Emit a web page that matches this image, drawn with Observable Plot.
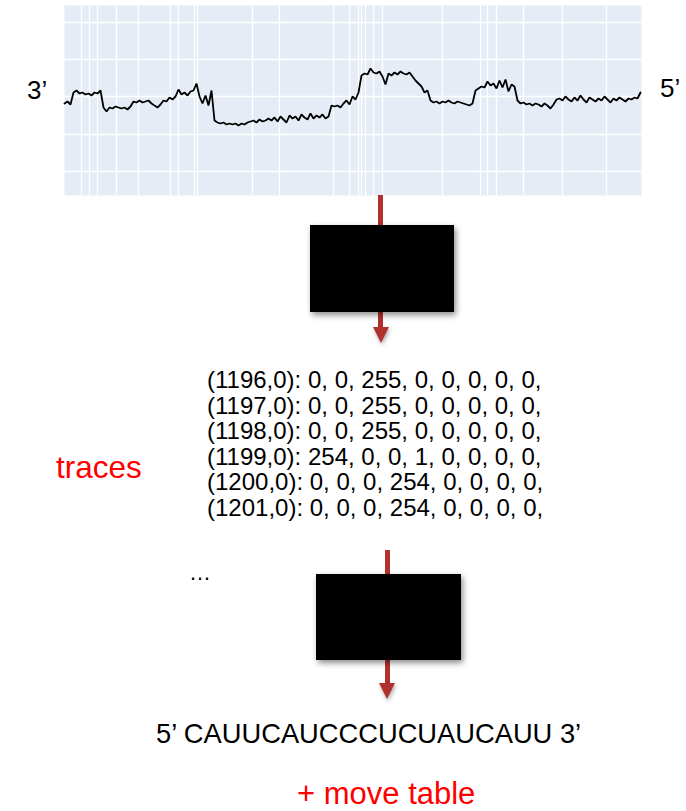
<!DOCTYPE html>
<html>
<head>
<meta charset="utf-8">
<script src="https://cdn.jsdelivr.net/npm/d3@7"></script>
<script src="https://cdn.jsdelivr.net/npm/@observablehq/plot@0.6"></script>
<style>
  html, body { margin: 0; padding: 0; background: #fff; }
  #wrap { position: relative; width: 686px; height: 811px; overflow: hidden; font-family: "Liberation Sans", Arial, sans-serif; }
  #wrap svg.plot { position: absolute; left: 0; top: 0; }
  .lbl { position: absolute; white-space: nowrap; line-height: 1; }
  .box { position: absolute; background: #000; box-shadow: 2px 3px 6px rgba(0,0,0,0.45); }
  .shaft { position: absolute; background: #b2302e; width: 5px; }
  .head { position: absolute; width: 0; height: 0; border-left: 8px solid transparent; border-right: 8px solid transparent; border-top: 16px solid #b2302e; filter: drop-shadow(1px 2px 2px rgba(0,0,0,0.35)); }
  #rows { position: absolute; left: 207px; top: 367px; font-size: 24px; line-height: 25.5px; color: #000; white-space: pre; }
</style>
</head>
<body>
<div id="wrap"></div>
<script>
// ---- data ----
const sampleStep = 3; // samples between successive readings
const signal = [
  97, 99, 96, 108, 110, 107, 108, 106, 107, 105, 108, 107, 110, 93, 89, 93, 92, 94, 93, 92,
  93, 91, 94, 99, 98, 100, 98, 99, 100, 97, 95, 93, 96, 100, 99, 103, 101, 104, 111, 106,
  108, 105, 109, 110, 117, 104, 97, 105, 95, 110, 80, 78, 77, 78, 76, 77, 76, 77, 75, 77,
  76, 78, 79, 80, 78, 81, 79, 80, 82, 80, 83, 79, 84, 81, 78, 85, 82, 84, 80, 86,
  83, 81, 87, 82, 85, 83, 86, 82, 84, 95, 94, 95, 93, 97, 100, 96, 104, 101, 108, 125,
  127, 126, 132, 128, 127, 129, 124, 116, 127, 125, 128, 126, 129, 127, 126, 128, 124, 120, 117, 114,
  108, 110, 100, 98, 99, 97, 99, 98, 100, 98, 97, 99, 98, 97, 96, 95, 97, 110, 112, 114,
  113, 119, 115, 117, 112, 120, 113, 121, 109, 116, 114, 100, 97, 98, 96, 97, 95, 97, 96, 94,
  97, 95, 92, 96, 101, 102, 100, 104, 101, 99, 103, 100, 105, 101, 98, 103, 101, 99, 102, 100,
  104, 101, 98, 102, 100, 103, 101, 99, 102, 101, 103, 102, 108
];
const gridX = [17, 25, 33, 52, 74, 106, 114, 130, 133, 188, 215, 269, 285, 294, 297, 301, 309, 318, 378, 416, 423, 432, 459, 498, 542];
const gridY = [29, 66, 104, 141, 178];
const leftEnd = "3’";
const rightEnd = "5’";
const moveRows = [
  "(1196,0): 0, 0, 255, 0, 0, 0, 0, 0,",
  "(1197,0): 0, 0, 255, 0, 0, 0, 0, 0,",
  "(1198,0): 0, 0, 255, 0, 0, 0, 0, 0,",
  "(1199,0): 254, 0, 0, 1, 0, 0, 0, 0,",
  "(1200,0): 0, 0, 0, 254, 0, 0, 0, 0,",
  "(1201,0): 0, 0, 0, 254, 0, 0, 0, 0,"
];
const tracesLabel = "traces";
const ellipsis = "…";
const sequence = "5’ CAUUCAUCCCUCUAUCAUU 3’";
const extraLabel = "+ move table";

// ---- table for Plot ----
const trace = signal.map((v, i) => ({t: i * sampleStep, v}));

const wrap = document.getElementById("wrap");

const chart = Plot.plot({
  width: 686,
  height: 200,
  marginLeft: 64,
  marginRight: 45,
  marginTop: 5,
  marginBottom: 5,
  x: {domain: [0, 577], axis: null},
  y: {domain: [5, 195], axis: null},
  marks: [
    Plot.frame({fill: "#e5ecf6", stroke: null}),
    Plot.ruleY(gridY, {stroke: "#ffffff", strokeWidth: 1.3}),
    Plot.ruleX(gridX, {stroke: "#ffffff", strokeWidth: 1.3}),
    Plot.line(trace, {x: "t", y: "v", stroke: "#000", strokeWidth: 1.8, strokeLinejoin: "miter"})
  ]
});
chart.classList.add("plot");
wrap.appendChild(chart);

function addLabel(text, css) {
  const d = document.createElement("div");
  d.className = "lbl";
  d.textContent = text;
  Object.assign(d.style, css);
  wrap.appendChild(d);
  return d;
}
function addEl(cls, css) {
  const d = document.createElement("div");
  d.className = cls;
  Object.assign(d.style, css);
  wrap.appendChild(d);
  return d;
}

addLabel(leftEnd, {left: "27px", top: "77px", fontSize: "26px", color: "#000"});
addLabel(rightEnd, {left: "660px", top: "75px", fontSize: "26px", color: "#000"});

// arrow 1 + box 1
addEl("shaft", {left: "378px", top: "195px", height: "135px"});
addEl("box", {left: "310px", top: "225px", width: "144px", height: "87px"});
addEl("head", {left: "372.5px", top: "327px"});

// move table rows
const rows = addEl("", {});
rows.id = "rows";
rows.textContent = moveRows.join("\n");

addLabel(tracesLabel, {left: "56px", top: "452px", fontSize: "31.5px", color: "#ff0000"});
addLabel(ellipsis, {left: "189px", top: "562px", fontSize: "22px", color: "#000"});

// arrow 2 + box 2
addEl("shaft", {left: "384.5px", top: "550px", height: "136px"});
addEl("box", {left: "316px", top: "574px", width: "145px", height: "86px"});
addEl("head", {left: "379px", top: "683px"});

addLabel(sequence, {left: "156px", top: "720px", fontSize: "27.3px", color: "#000"});
addLabel(extraLabel, {left: "297px", top: "778px", fontSize: "31px", color: "#ff0000"});
</script>
</body>
</html>
